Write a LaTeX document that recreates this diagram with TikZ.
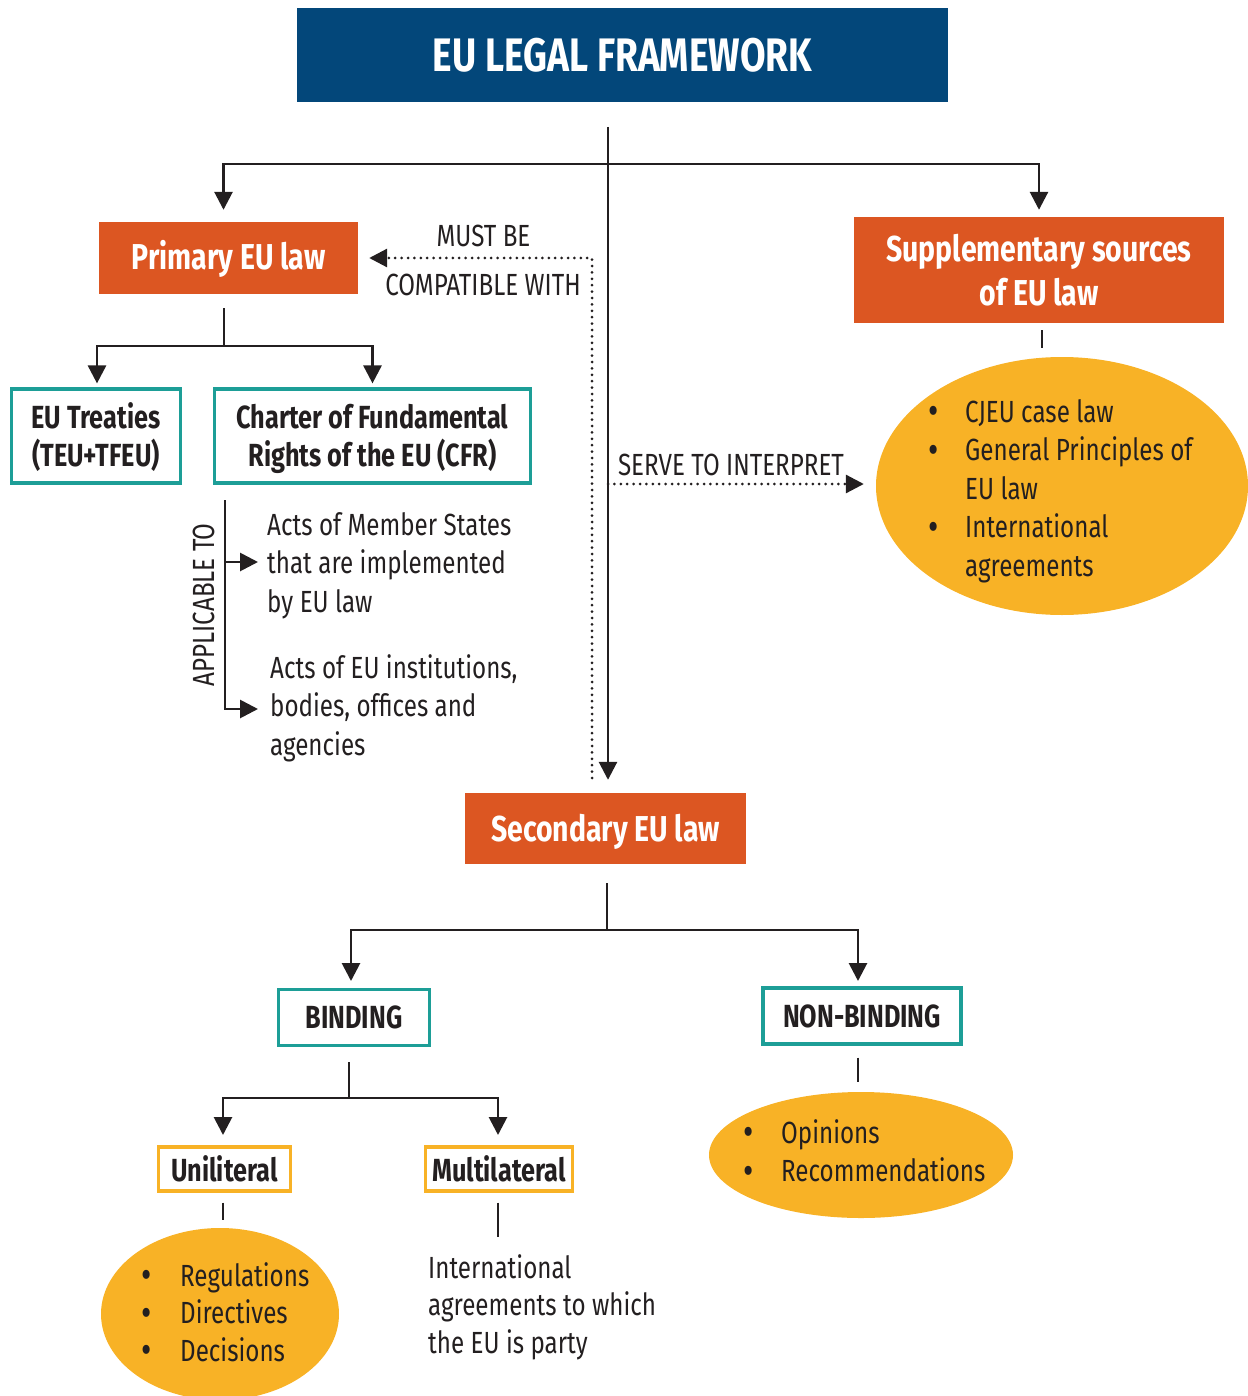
\documentclass[tikz,border=0pt]{standalone}
\usepackage{fontspec}
\setmainfont{Fira Sans}[FakeStretch=0.79]
\usetikzlibrary{arrows.meta,shapes.geometric}
\definecolor{eunavy}{HTML}{03477A}
\definecolor{eurust}{HTML}{DC5622}
\definecolor{euteal}{HTML}{1D9E97}
\definecolor{eugold}{HTML}{F8B226}
\definecolor{euink}{HTML}{231F20}
\newcommand{\mylines}[1]{\begin{tabular}[t]{@{}l@{}}#1\end{tabular}}
\newcommand{\mycentre}[1]{\begin{tabular}{@{}c@{}}#1\end{tabular}}
\newcommand{\mybul}[2]{\begin{tabular}[t]{@{}p{#1}@{}l@{}}#2\end{tabular}}
\newcommand{\bul}{\raisebox{-2.5pt}{\fontsize{40}{38}\selectfont\textbullet}}
\newcommand{\sinktext}[2]{\raisebox{-#1}[\height][\depth]{#2}}
\begin{document}
\begin{tikzpicture}[x=1pt,y=-1pt,
  conn/.style={line width=2.8pt, draw=euink},
  arr/.style={conn, -{Triangle[length=18pt,width=18pt]}},
  dots/.style={draw=euink, line width=3pt, line cap=round, dash pattern=on 0pt off 6.4pt, -{Triangle[length=18pt,width=18pt,fill=euink]}},
  rustbox/.style={fill=eurust, text=white, font=\bfseries\fontsize{36}{44}\selectfont, inner sep=0pt, align=center},
  tealbox/.style={draw=euteal, line width=3.2pt, fill=white, text=euink, font=\bfseries\fontsize{32}{37}\selectfont, inner sep=0pt, align=center},
  goldbox/.style={draw=eugold, line width=3.2pt, fill=white, text=euink, font=\bfseries\fontsize{32}{37}\selectfont, inner sep=0pt, align=center},
  blob/.style={ellipse, fill=eugold, inner sep=0pt},
  txt/.style={text=euink, font=\fontsize{30.6}{38.5}\selectfont, inner sep=0pt, anchor=base west},
]
\useasboundingbox (0,0) rectangle (1247,1396);

% title
\node[fill=eunavy, minimum width=651pt, minimum height=94pt, inner sep=0pt, text=white,
      font=\bfseries\fontsize{47}{47}\selectfont] (title) at (622.5,55) {EU LEGAL FRAMEWORK};

% boxes
\node[rustbox, minimum width=259pt, minimum height=72pt] (prim) at (228.5,258) {\sinktext{1pt}{Primary EU law}};
\node[rustbox, minimum width=370pt, minimum height=106pt] (supp) at (1039,270) {\sinktext{5pt}{\mycentre{Supplementary sources\\of EU law}}};
\node[rustbox, minimum width=281pt, minimum height=71pt] (sec) at (605.5,828.5) {\sinktext{3pt}{Secondary EU law}};
\node[tealbox, minimum width=169pt, minimum height=94pt] (treat) at (96,436) {\sinktext{4pt}{\mycentre{EU Treaties\\(TEU+TFEU)}}};
\node[tealbox, minimum width=316pt, minimum height=94pt] (cfr) at (372.5,436) {\sinktext{4pt}{\mycentre{Charter of Fundamental\\Rights of the EU (CFR)}}};
\node[tealbox, minimum width=151pt, minimum height=56pt] (bind) at (354,1017.5) {BINDING};
\node[tealbox, minimum width=198pt, minimum height=56pt] (nonbind) at (862,1016) {NON-BINDING};
\node[goldbox, minimum width=132pt, minimum height=44pt] (uni) at (224.5,1169) {Uniliteral};
\node[goldbox, minimum width=147pt, minimum height=44pt] (multi) at (499,1169) {Multilateral};

% ellipses
\node[blob, minimum width=372pt, minimum height=258pt] (suppell) at (1062,486) {};
\node[blob, minimum width=304pt, minimum height=126pt] (nbell) at (861,1155) {};
\node[blob, minimum width=238pt, minimum height=172pt] (uniell) at (220,1314) {};

% lists and texts
\node[txt] (supplist) at (928,422) {\mybul{37pt}{\bul & CJEU case law\\ \bul & General Principles of\\ & EU law\\ \bul & International\\ & agreements}};
\node[txt] (nblist) at (743,1143) {\mybul{38pt}{\bul & Opinions\\ \bul & Recommendations}};
\node[txt, font=\fontsize{30.6}{37.5}\selectfont] (unilist) at (141,1286) {\mybul{39pt}{\bul & Regulations\\ \bul & Directives\\ \bul & Decisions}};
\node[txt, font=\fontsize{30.6}{37.5}\selectfont] (intl) at (428,1278) {\mylines{International\\agreements to which\\the EU is party}};
\node[txt] (acts1) at (267,535) {\mylines{Acts of Member States\\that are implemented\\by EU law}};
\node[txt] (acts2) at (270,678) {\mylines{Acts of EU institutions,\\bodies, offices and\\agencies}};
\node[txt, anchor=base] (mustbe) at (483.5,247) {MUST BE};
\node[txt, anchor=base] (compat) at (483,295) {COMPATIBLE WITH};
\node[txt, anchor=base] (serve) at (731,475) {SERVE TO INTERPRET};
\node[txt, anchor=center, rotate=90] (appl) at (204,605) {APPLICABLE TO};

% main tree
\coordinate (root) at (608,127);
\coordinate (j1) at (608,164);
\coordinate (secin) at ([yshift=13pt]sec.north);
\coordinate (primin) at ([xshift=-5pt,yshift=12pt]prim.north);
\coordinate (suppin) at ([yshift=7pt]supp.north);
\draw[arr] (root) -- (root |- secin);
\draw[arr] (j1) -| (primin);
\draw[arr] (j1) -| (suppin);

% dotted relations
\coordinate (dotbot) at (592,778);
\coordinate (primdot) at ([xshift=11pt]prim.east);
\draw[dots] (dotbot) |- (primdot);
\coordinate (j2) at (608,484);
\coordinate (suppdot) at ([xshift=-12pt,yshift=2pt]suppell.west);
\draw[dots] (j2) -- (j2 -| suppdot);

% primary branches
\coordinate (p0) at ([xshift=-4.5pt,yshift=-14pt]prim.south);
\coordinate (p1) at (224,346);
\draw[conn] (p0) -- (p1);
\draw[arr] (p1) -| ([xshift=1pt,yshift=4pt]treat.north);
\draw[arr] (p1) -| ([yshift=4pt]cfr.north);

% applicable to
\coordinate (a0) at (225,500);
\coordinate (a1) at (225,562);
\coordinate (a1e) at (258,562);
\coordinate (a2e) at (258,709);
\draw[arr] (a0) |- (a2e);
\draw[arr] (a1) -- (a1e);

% supplementary tick
\draw[conn] ([shift={(3,7)}]supp.south) -- ([shift={(3,25)}]supp.south);

% secondary branches
\coordinate (s0) at ([xshift=1.5pt,yshift=-19pt]sec.south);
\coordinate (s1) at (607,930);
\coordinate (bindin) at (351,981);
\coordinate (nbin) at (858,981);
\draw[conn] (s0) -- (s1);
\draw[arr] (s1) -| (bindin);
\draw[arr] (s1) -| (nbin);

% binding branches
\coordinate (b0) at (349,1062);
\coordinate (b1) at (349,1098);
\coordinate (uniin) at (223,1135);
\coordinate (multiin) at (498,1135);
\draw[conn] (b0) -- (b1);
\draw[arr] (b1) -| (uniin);
\draw[arr] (b1) -| (multiin);

% ticks
\draw[conn] ([shift={(-1.5,10)}]uni.south) -- ([shift={(-1.5,27)}]uni.south);
\draw[conn] ([shift={(-1,10)}]multi.south) -- ([shift={(-1,44)}]multi.south);
\draw[conn] ([shift={(-4,12)}]nonbind.south) -- ([shift={(-4,36)}]nonbind.south);
\end{tikzpicture}
\end{document}
